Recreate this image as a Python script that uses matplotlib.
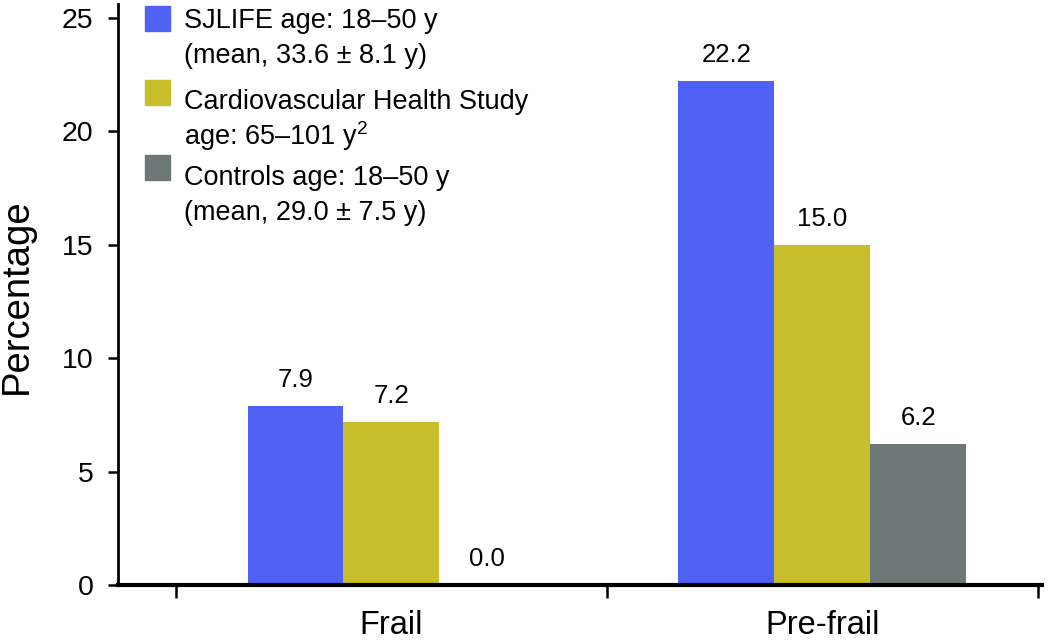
import matplotlib
matplotlib.use("Agg")
import matplotlib.pyplot as plt
from matplotlib.patches import Rectangle
import numpy as np

categories = ["Frail", "Pre-frail"]
series_names = ["SJLIFE", "CHS", "Controls"]
sjlife = [7.9, 22.2]
chs = [7.2, 15.0]
controls = [0.0, 6.2]
legend_lines = [
    ["SJLIFE age: 18\u201350 y", "(mean, 33.6 \u00b1 8.1 y)"],
    ["Cardiovascular Health Study", "age: 65\u2013101 y$^2$"],
    ["Controls age: 18\u201350 y", "(mean, 29.0 \u00b1 7.5 y)"],
]
yticks = [0, 5, 10, 15, 20, 25]
colors = ["#4F62F4", "#C8BD2A", "#6E7977"]

plt.rcParams["font.family"] = ["Liberation Sans", "DejaVu Sans"]
plt.rcParams["mathtext.fontset"] = "custom"
plt.rcParams["mathtext.rm"] = "Liberation Sans"

W, H = 1050, 642
fig = plt.figure(figsize=(10.5, 6.42), dpi=100)
ax = fig.add_axes([118 / W, 57 / H, (1042 - 118) / W, 581 / H])

x = np.arange(len(categories))
w = 0.2225
data = [sjlife, chs, controls]
for i, (vals, c) in enumerate(zip(data, colors)):
    pos = x + (i - 1) * w
    ax.bar(pos, vals, width=w, color=c, zorder=2)
    for p, v in zip(pos, vals):
        ax.annotate(f"{v:.1f}", (p, v), xytext=(0, 10), textcoords="offset points",
                    ha="center", va="bottom", fontsize=18.5)

ax.set_xlim(-0.6346, 1.51)
ax.set_ylim(0, 25.6)
ax.set_yticks(yticks)
ax.set_yticklabels([str(t) for t in yticks], fontsize=20.5)
ax.set_xticks(x)
ax.set_xticklabels(categories, fontsize=23.5)
ax.set_xticks([-0.5, 0.5, 1.5], minor=True)
ax.tick_params(axis="x", which="major", length=0, pad=18)
ax.tick_params(axis="x", which="minor", length=9, width=1.8, direction="out")
ax.tick_params(axis="y", length=7.5, width=1.8, direction="out", pad=10)

fig.text(17 / W, 1 - 296 / H, "Percentage", rotation=90, fontsize=27.5,
         ha="center", va="center")

for s in ["top", "right"]:
    ax.spines[s].set_visible(False)
ax.spines["left"].set_linewidth(2)
ax.spines["bottom"].set_linewidth(3)

# manual legend (handle aligned with first line of each entry)
patch_tops = [6, 80, 155]
line_centers = [[21, 56], [102, 136], [178, 213]]
for pt, lc, lines, c in zip(patch_tops, line_centers, legend_lines, colors):
    fig.patches.append(Rectangle((145 / W, 1 - (pt + 25) / H), 25 / W, 25 / H,
                                 transform=fig.transFigure, color=c, figure=fig))
    for yc, t in zip(lc, lines):
        fig.text(184 / W, 1 - yc / H, t, fontsize=19.5, va="center", ha="left")

fig.savefig("out.png", dpi=100)
